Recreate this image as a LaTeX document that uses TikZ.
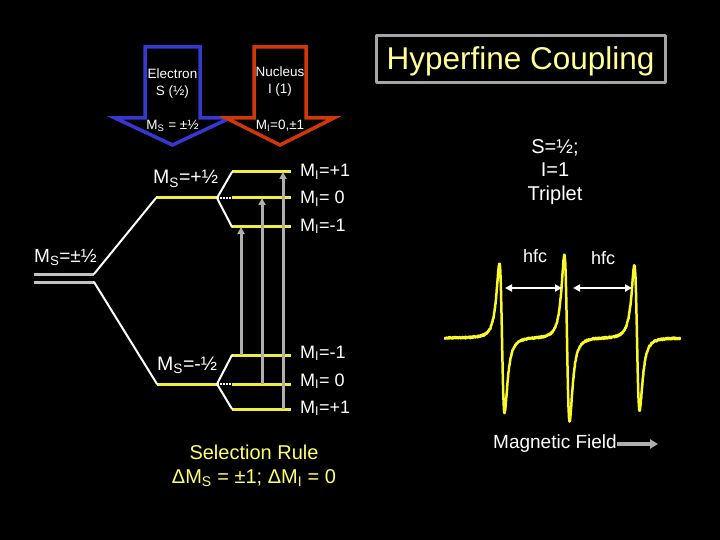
\documentclass[tikz,border=0pt]{standalone}
\usepackage{fontspec}
\setmainfont{Liberation Sans}
\usetikzlibrary{arrows.meta}
\definecolor{elecblue}{RGB}{55,55,210}
\definecolor{nucred}{RGB}{210,55,10}
\definecolor{lvlyellow}{RGB}{240,240,60}
\definecolor{specyellow}{RGB}{250,250,40}
\definecolor{titleyellow}{RGB}{255,255,150}
\definecolor{ruleyellow}{RGB}{255,255,110}
\definecolor{arrgray}{RGB}{175,175,175}
\definecolor{lvlgray}{RGB}{195,195,195}
\definecolor{boxgray}{RGB}{165,165,165}
\begin{document}
\begin{tikzpicture}[x=1pt, y=-1pt, line join=round, line cap=round, >={Triangle[length=7pt,width=7pt]}]
\tikzset{every node/.style={text=white, inner sep=0pt},
  lvl/.style={line width=3pt, lvlyellow, line cap=butt},
  glvl/.style={line width=3pt, lvlgray, line cap=butt},
  tie/.style={line width=2pt, white},
  dots/.style={line width=2pt, white, line cap=butt, dash pattern=on 1.5pt off 1.5pt},
  trans/.style={->, line width=3pt, arrgray, line cap=butt},
  small/.style={font=\fontsize{13.5}{17}\selectfont},
  lab/.style={font=\fontsize{18}{21}\selectfont, anchor=base west},
  big/.style={font=\fontsize{20}{23.5}\selectfont}}
\def\base{338}
\tikzset{declare function={lor(\u)=2*\u/(1+\u*\u)/(1+\u*\u);}}
\fill[black] (0,0) rectangle (720,540);
\useasboundingbox (0,0) rectangle (720,540);
\draw[line width=3.5pt, elecblue, line join=miter] (145,47)--(200,47)--(200,118)--(230,118)--(172.5,145)--(115,118)--(145,118)--cycle;
\draw[line width=3.5pt, nucred, line join=miter] (254,47)--(306,47)--(306,118)--(334,118)--(280,145)--(226,118)--(254,118)--cycle;
\node[small, align=center] (elec) at (172.5,84) {Electron\\S (½)};
\node[small] (msval) at (172.5,126) {M\textsubscript{S} = ±½};
\node[small, align=center] (nuc) at (280,82) {Nucleus\\I (1)};
\node[small] (mival) at (280,126) {M\textsubscript{I}=0,±1};
\draw[boxgray, line width=3pt] (376,36) rectangle (665,83);
\node[text=titleyellow, font=\fontsize{31.5}{36}\selectfont, anchor=base] (title) at (520.5,70) {Hyperfine Coupling};
\draw[glvl] (34,274) -- (94,274) coordinate (g1);
\draw[glvl] (34,282) -- (94,282) coordinate (g2);
\draw[lvl] (156,198) coordinate (a1) -- (217,198) coordinate (a2);
\draw[lvl] (157,384) coordinate (b1) -- (217,384) coordinate (b2);
\draw[tie] (g1) -- (a1);
\draw[tie] (g2) -- (b1);
\foreach \n/\y in {p/172,z/198,m/227} \draw[lvl] (232,\y) coordinate (up\n) -- (291,\y);
\foreach \n/\y in {m/355,z/384,p/409} \draw[lvl] (232,\y) coordinate (lo\n) -- (291,\y);
\draw[tie] (upp) -- (a2) -- (upm);
\draw[tie] (lom) -- (b2) -- (lop);
\draw[dots] (a2) -- (upz);
\draw[dots] (b2) -- (loz);
\foreach \n/\s in {m/9,z/30,p/51} \draw[trans] ([xshift=\s pt]lo\n) -- ([xshift=\s pt]up\n);
\node[lab, font=\fontsize{19}{22}\selectfont] (msall) at (34,262) {M\textsubscript{S}=±½};
\node[lab, font=\fontsize{19.5}{22}\selectfont] (msup) at (153,184) {M\textsubscript{S}=+½};
\node[lab, font=\fontsize{19.5}{22}\selectfont] (msdn) at (157,370) {M\textsubscript{S}=-½};
\node[lab] (mi1) at (300,177) {M\textsubscript{I}=+1};
\node[lab] (mi2) at (300,204) {M\textsubscript{I}= 0};
\node[lab] (mi3) at (300,231) {M\textsubscript{I}=-1};
\node[lab] (mi4) at (300,358) {M\textsubscript{I}=-1};
\node[lab] (mi5) at (300,386) {M\textsubscript{I}= 0};
\node[lab] (mi6) at (300,413) {M\textsubscript{I}=+1};
\node[big, align=center] (spin) at (555,172) {S=½;\\I=1\\Triplet};
\draw[specyellow, line width=2.5pt, samples=941, domain=445:680] plot (\x,{\base+0.9*rand+115*lor((\x-502)/4.5)+128*lor((\x-567)/4.5)+112*lor((\x-637)/4.5)});
\coordinate (h1) at (505,288); \coordinate (h2) at (562,288);
\coordinate (h3) at (573,288); \coordinate (h4) at (632,288);
\draw[<->, white, line width=2.5pt] (h1) -- (h2);
\draw[<->, white, line width=2.5pt] (h3) -- (h4);
\node[font=\fontsize{18}{21}\selectfont] (hfc1) at (535,256) {hfc};
\node[font=\fontsize{18}{21}\selectfont] (hfc2) at (603,258) {hfc};
\node[font=\fontsize{19}{22}\selectfont, anchor=base] (field) at (555,448) {Magnetic Field};
\coordinate (fend) at (658,444);
\draw[->, arrgray, line width=3.5pt, line cap=butt, >={Triangle[length=8pt,width=9pt]}] (field.east |- fend) -- (fend);
\node[big, align=center, text=ruleyellow] (rule) at (254,466) {Selection Rule\\ΔM\textsubscript{S} = ±1; ΔM\textsubscript{I} = 0};
\end{tikzpicture}
\end{document}
